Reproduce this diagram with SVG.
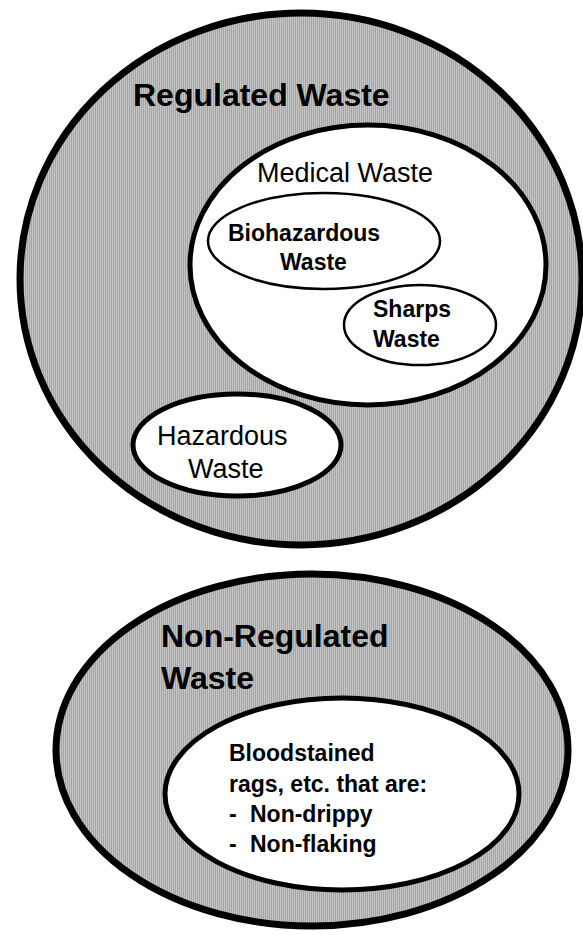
<svg xmlns="http://www.w3.org/2000/svg" width="583" height="935" viewBox="0 0 583 935">
<defs>
<pattern id="stripes" x="0" y="0" width="2" height="4" patternUnits="userSpaceOnUse">
<rect x="0" y="0" width="1" height="4" fill="#c6c6c6"/>
<rect x="1" y="0" width="1" height="4" fill="#a4a4a4"/>
</pattern>
</defs>
<style>
.outer{fill:url(#stripes);stroke:#000;stroke-width:7}
.mid{fill:#fff;stroke:#000;stroke-width:5}
.thin{fill:#fff;stroke:#000;stroke-width:2.5}
text{font-family:"Liberation Sans",Arial,sans-serif;fill:#000}
.big{font-size:32px;font-weight:bold}
.reg{font-size:27px}
.sm{font-size:23px;font-weight:bold}
.xs{font-size:23px;font-weight:bold}
</style>
<rect width="583" height="935" fill="#fff"/>
<g id="regulated">
<ellipse class="outer" cx="301" cy="279" rx="281" ry="266"/>
<text class="big" x="133" y="106">Regulated Waste</text>
</g>
<g id="medical">
<ellipse class="mid" cx="368" cy="265" rx="178" ry="140"/>
<text class="reg" x="257" y="182">Medical Waste</text>
</g>
<g id="biohazardous">
<ellipse class="thin" cx="324" cy="241" rx="116" ry="48"/>
<text class="sm" x="228" y="241">Biohazardous</text>
<text class="sm" x="280" y="270">Waste</text>
</g>
<g id="sharps">
<ellipse class="thin" cx="420" cy="325" rx="76" ry="40"/>
<text class="sm" x="373" y="317">Sharps</text>
<text class="sm" x="373" y="347">Waste</text>
</g>
<g id="hazardous">
<ellipse class="mid" cx="237" cy="445" rx="104" ry="51"/>
<text class="reg" x="157" y="445">Hazardous</text>
<text class="reg" x="188" y="478">Waste</text>
</g>
<g id="nonregulated">
<ellipse class="outer" cx="312" cy="750" rx="256" ry="176"/>
<text class="big" x="161" y="647">Non-Regulated</text>
<text class="big" x="161" y="689">Waste</text>
</g>
<g id="bloodstained">
<ellipse class="mid" cx="342" cy="794" rx="177" ry="96"/>
<text class="xs" x="229" y="761">Bloodstained</text>
<text class="xs" x="229" y="792">rags, etc. that are:</text>
<text class="xs" x="229" y="822">-</text>
<text class="xs" x="250" y="822">Non-drippy</text>
<text class="xs" x="229" y="852">-</text>
<text class="xs" x="250" y="852">Non-flaking</text>
</g>
<g id="connectors"/>
</svg>
